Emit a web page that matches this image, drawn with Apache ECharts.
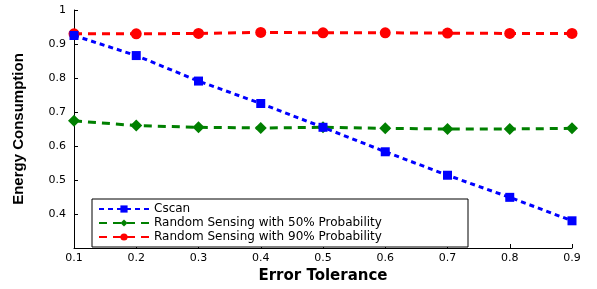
<!DOCTYPE html>
<html>
<head>
<meta charset="utf-8">
<script src="https://cdn.jsdelivr.net/npm/echarts@6/dist/echarts.min.js"></script>
<style>
  html, body { margin: 0; padding: 0; background: #fff; }
  #chart { width: 597px; height: 289px; }
</style>
</head>
<body>
<div id="chart"></div>
<script>
var errorTolerance = [0.1, 0.2, 0.3, 0.4, 0.5, 0.6, 0.7, 0.8, 0.9];
var cscan = [0.925, 0.866, 0.791, 0.725, 0.655, 0.583, 0.514, 0.449, 0.380];
var random50 = [0.674, 0.660, 0.655, 0.653, 0.655, 0.652, 0.650, 0.650, 0.652];
var random90 = [0.930, 0.930, 0.931, 0.934, 0.933, 0.933, 0.932, 0.931, 0.931];
var seriesNames = ['Cscan', 'Random Sensing with 50% Probability', 'Random Sensing with 90% Probability'];

function pairs(vals) {
    return errorTolerance.map(function (x, i) { return [x, vals[i]]; });
}

var chart = echarts.init(document.getElementById('chart'));
var font = 'DejaVu Sans, Verdana, sans-serif';

// legend text width, so the box can be stretched to the reference size
var legendFont = '12px ' + font;
var textW = echarts.format.getTextRect
    ? echarts.format.getTextRect(seriesNames[1], legendFont).width
    : 250;
var rightPad = Math.max(6, 468 - 92 - 1 - 6 - 50 - 5 - textW);

var option = {
    animation: false,
    grid: { left: 74, right: 25, top: 10, bottom: 34 },
    legend: {
        orient: 'vertical',
        left: 92,
        top: 199,
        itemWidth: 50,
        itemHeight: 9,
        itemGap: 2,
        padding: [4, rightPad, 4, 6],
        borderColor: '#000',
        borderWidth: 1,
        backgroundColor: '#fff',
        textStyle: { fontFamily: font, fontSize: 12, color: '#000' },
        data: seriesNames
    },
    xAxis: {
        type: 'value',
        min: 0.1,
        max: 0.9,
        interval: 0.1,
        name: 'Error Tolerance',
        nameLocation: 'middle',
        nameGap: 21,
        nameTextStyle: { fontFamily: font, fontSize: 15, fontWeight: 'bold', color: '#000' },
        axisLine: { lineStyle: { color: '#000', width: 1 } },
        axisTick: { inside: true, length: 4, lineStyle: { color: '#000' } },
        axisLabel: { fontFamily: font, fontSize: 11, color: '#000', margin: 5,
            formatter: function (v) { return v.toFixed(1); } },
        splitLine: { show: false }
    },
    yAxis: {
        type: 'value',
        min: 0.3,
        max: 1,
        interval: 0.1,
        name: 'Energy Consumption',
        nameLocation: 'middle',
        nameGap: 48,
        nameTextStyle: { fontFamily: 'Liberation Sans Narrow, Liberation Sans, Arial, sans-serif', fontSize: 15, fontWeight: 'bold', color: '#000' },
        axisLine: { show: true, lineStyle: { color: '#000', width: 1 } },
        axisTick: { inside: true, length: 4, lineStyle: { color: '#000' } },
        axisLabel: { fontFamily: font, fontSize: 11, color: '#000', margin: 8, showMinLabel: false,
            formatter: function (v) {
                if (Math.abs(v - 1) < 1e-9) return '1';
                return v.toFixed(1);
            } },
        splitLine: { show: false }
    },
    series: [
        {
            name: seriesNames[0],
            type: 'line',
            data: pairs(cscan),
            symbol: 'rect',
            symbolSize: 9,
            color: '#0000ff',
            lineStyle: { width: 3, type: [5, 4] },
            z: 3
        },
        {
            name: seriesNames[1],
            type: 'line',
            data: pairs(random50),
            symbol: 'diamond',
            symbolSize: 12,
            color: '#008000',
            lineStyle: { width: 3, type: [8, 6] },
            z: 2
        },
        {
            name: seriesNames[2],
            type: 'line',
            data: pairs(random90),
            symbol: 'circle',
            symbolSize: 11,
            color: '#ff0000',
            lineStyle: { width: 3, type: [8, 6] },
            z: 2
        }
    ]
};
chart.setOption(option);
</script>
</body>
</html>
